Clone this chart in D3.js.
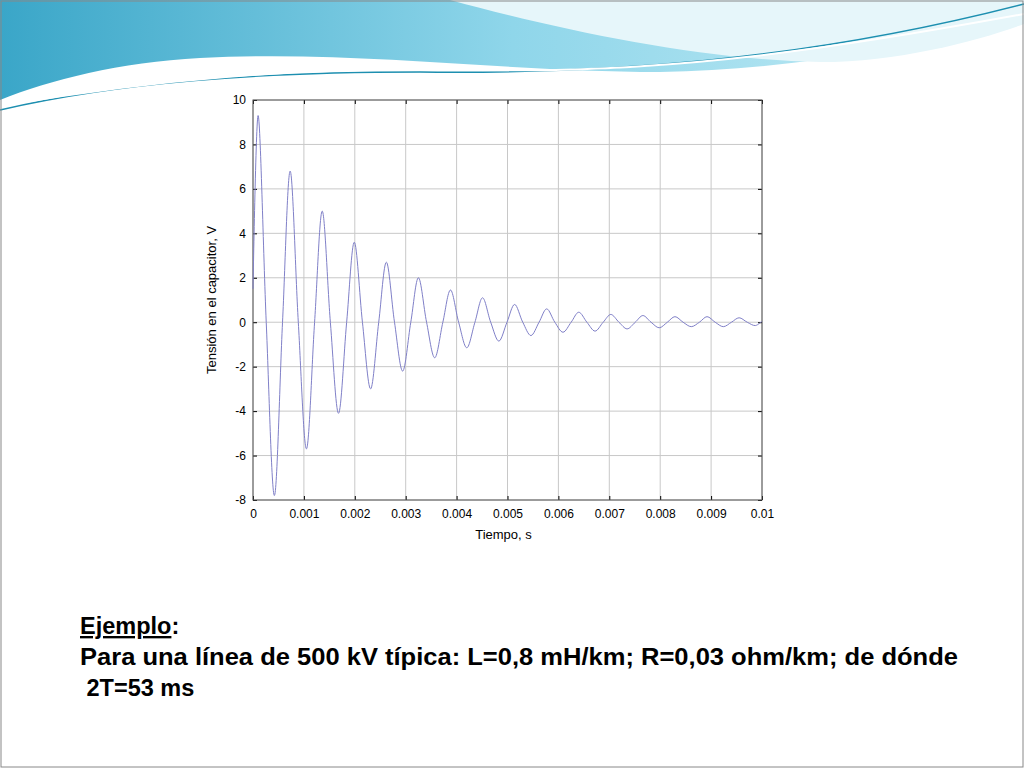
<!DOCTYPE html>
<html><head><meta charset="utf-8">
<script src="https://cdn.jsdelivr.net/npm/d3@7"></script>
<style>body{margin:0;background:#fff}svg{display:block}</style>
</head><body>
<svg id="c" width="1024" height="768"></svg>
<script>
// extrema and zero crossings
var times = [0, 0.0001, 0.00026, 0.00042, 0.00058, 0.00073, 0.00089, 0.00105, 0.00121, 0.00136,
  0.00152, 0.00168, 0.00184, 0.00199, 0.00215, 0.00231, 0.00247, 0.00262, 0.00278, 0.00294,
  0.0031, 0.00325, 0.00341, 0.00357, 0.00373, 0.00388, 0.00404, 0.0042, 0.00436, 0.00451,
  0.00467, 0.00483, 0.00499, 0.00514, 0.0053, 0.00546, 0.00562, 0.00577, 0.00593, 0.00609,
  0.00625, 0.0064, 0.00656, 0.00672, 0.00688, 0.00703, 0.00719, 0.00735, 0.00751, 0.00766,
  0.00782, 0.00798, 0.00814, 0.00829, 0.00845, 0.00861, 0.00877, 0.00892, 0.00908, 0.00924,
  0.0094, 0.00955, 0.00971, 0.00987, 0.01];
var volts = [1.5, 9.3, 0, -7.8, 0, 6.8, 0, -5.7, 0, 5.0,
  0, -4.1, 0, 3.6, 0, -3.0, 0, 2.7, 0, -2.2,
  0, 2.0, 0, -1.6, 0, 1.45, 0, -1.15, 0, 1.1,
  0, -0.85, 0, 0.8, 0, -0.6, 0, 0.6, 0, -0.45,
  0, 0.45, 0, -0.4, 0, 0.35, 0, -0.3, 0, 0.3,
  0, -0.25, 0, 0.25, 0, -0.2, 0, 0.25, 0, -0.2,
  0, 0.2, 0, -0.15, 0.05];
var xTicks = [0, 0.001, 0.002, 0.003, 0.004, 0.005, 0.006, 0.007, 0.008, 0.009, 0.01];
var yTicks = [-8, -6, -4, -2, 0, 2, 4, 6, 8, 10];

var svg = d3.select('#c');

// slide decoration
var defs = svg.append('defs');
var g1 = defs.append('linearGradient').attr('id', 'wave').attr('x1', 0).attr('x2', 1);
g1.append('stop').attr('offset', 0).attr('stop-color', '#3aa6c8');
g1.append('stop').attr('offset', 0.5).attr('stop-color', '#8fd6ea');
g1.append('stop').attr('offset', 1).attr('stop-color', '#c6ecf5');
svg.append('path').attr('d', 'M0,0 H1024 V20 C900,50 780,70 660,72 C500,72 360,50 200,58 C120,62 50,80 0,100 Z')
  .attr('fill', 'url(#wave)');
svg.append('path').attr('d', 'M450,0 C560,30 700,60 820,62 C900,62 980,40 1024,24 V0 Z').attr('fill', '#e6f6fa');
svg.append('path').attr('d', 'M0,110 C120,82 260,72 420,72 C600,74 800,62 1024,4')
  .attr('fill', 'none').attr('stroke', '#1d8fb0').attr('stroke-width', 1.5);
svg.append('path').attr('d', 'M0,106 C150,80 300,66 480,70 C680,74 860,44 1024,14')
  .attr('fill', 'none').attr('stroke', '#fff').attr('stroke-width', 2);
svg.append('rect').attr('x', 1).attr('y', 1).attr('width', 1022).attr('height', 766)
  .attr('fill', 'none').attr('stroke', '#888').attr('stroke-width', 1);

var pLeft = 253, pRight = 762, pTop = 100, pBottom = 500;
var x = d3.scaleLinear().domain([0, 0.01]).range([pLeft, pRight]);
var y = d3.scaleLinear().domain([-8, 10]).range([pBottom, pTop]);

var grid = svg.append('g').attr('stroke', '#c8c8c8').attr('stroke-width', 1);
xTicks.forEach(function(t) {
  grid.append('line').attr('x1', x(t)).attr('x2', x(t)).attr('y1', pTop).attr('y2', pBottom);
});
yTicks.forEach(function(v) {
  grid.append('line').attr('x1', pLeft).attr('x2', pRight).attr('y1', y(v)).attr('y2', y(v));
});

function styleAxis(g) {
  g.select('.domain').remove();
  g.selectAll('line').attr('stroke', '#000');
  g.selectAll('text').attr('font-family', 'Liberation Sans, Arial').attr('font-size', 12).attr('fill', '#000');
}
svg.append('g').attr('transform', 'translate(0,' + pBottom + ')')
  .call(d3.axisBottom(x).tickValues(xTicks).tickFormat(d3.format('')).tickSize(-4).tickPadding(9)).call(styleAxis);
svg.append('g').attr('transform', 'translate(0,' + pTop + ')')
  .call(d3.axisTop(x).tickValues(xTicks).tickFormat('').tickSize(-4)).call(styleAxis);
svg.append('g').attr('transform', 'translate(' + pLeft + ',0)')
  .call(d3.axisLeft(y).tickValues(yTicks).tickFormat(function(v) { return String(v); }).tickSize(-4).tickPadding(7)).call(styleAxis);
svg.append('g').attr('transform', 'translate(' + pRight + ',0)')
  .call(d3.axisRight(y).tickValues(yTicks).tickFormat('').tickSize(-4)).call(styleAxis);
svg.append('rect').attr('x', pLeft).attr('y', pTop).attr('width', pRight - pLeft).attr('height', pBottom - pTop)
  .attr('fill', 'none').attr('stroke', '#555');

var line = d3.line().x(function(d) { return x(d[0]); }).y(function(d) { return y(d[1]); })
  .curve(d3.curveCatmullRom.alpha(0.5));
svg.append('path').datum(d3.zip(times, volts)).attr('d', line)
  .attr('fill', 'none').attr('stroke', '#8080c8').attr('stroke-width', 1);

svg.append('text').attr('x', (pLeft + pRight) / 2 - 4).attr('y', 539).attr('text-anchor', 'middle')
  .attr('font-family', 'Liberation Sans, Arial').attr('font-size', 13).text('Tiempo, s');
svg.append('text').attr('transform', 'translate(216,' + (pTop + pBottom) / 2 + ') rotate(-90)')
  .attr('text-anchor', 'middle').attr('font-family', 'Liberation Sans, Arial').attr('font-size', 13)
  .text('Tensión en el capacitor, V');

var txt = svg.append('g').attr('font-family', 'Liberation Sans, Arial').attr('font-weight', 'bold')
  .attr('font-size', 23.5).attr('fill', '#000');
var t1 = txt.append('text').attr('x', 80).attr('y', 634);
t1.append('tspan').attr('text-decoration', 'underline').text('Ejemplo');
t1.append('tspan').text(':');
txt.append('text').attr('x', 80).attr('y', 665).attr('textLength', 878).attr('lengthAdjust', 'spacingAndGlyphs')
  .text('Para una línea de 500 kV típica: L=0,8 mH/km; R=0,03 ohm/km; de dónde');
txt.append('text').attr('x', 80).attr('y', 696).attr('xml:space', 'preserve').text(' 2T=53 ms');
</script>
</body></html>
